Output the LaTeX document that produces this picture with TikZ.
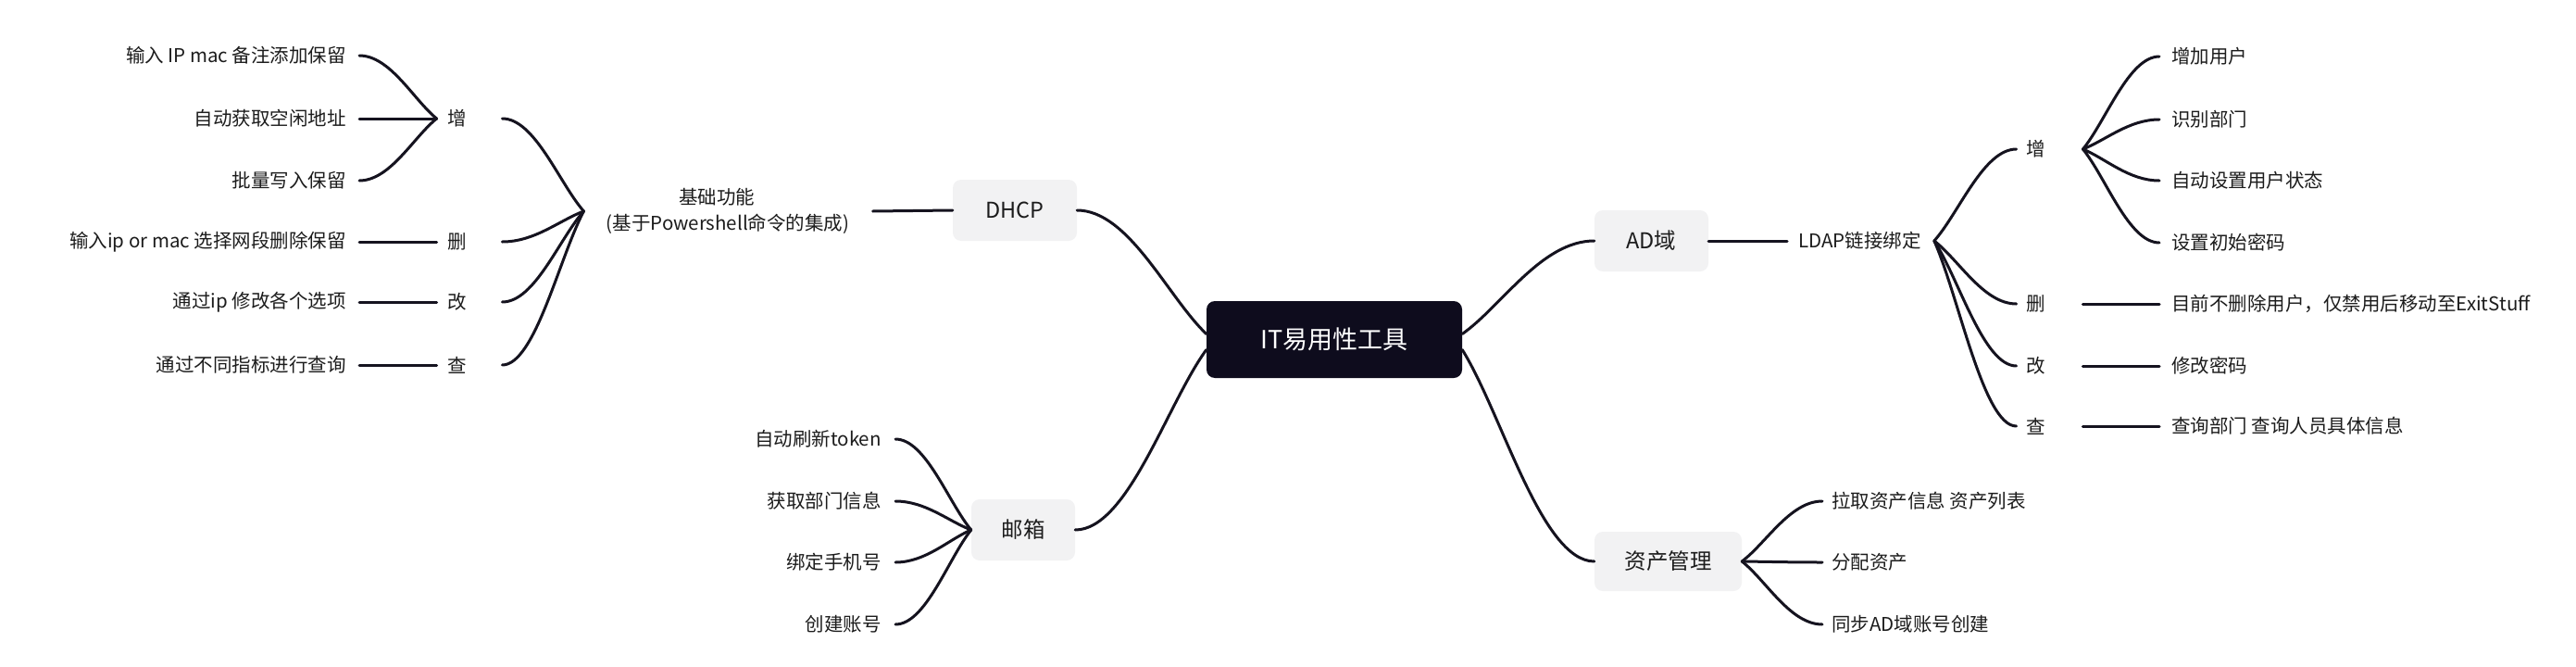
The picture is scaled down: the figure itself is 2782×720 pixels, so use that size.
\documentclass[tikz,border=0pt]{standalone}
\usepackage{fontspec}
\setmainfont{Noto Sans CJK SC}
\usetikzlibrary{calc}
\definecolor{linec}{HTML}{15131F}
\definecolor{boxfill}{HTML}{F2F2F3}
\definecolor{rootfill}{HTML}{0E0C1D}
\definecolor{txt}{HTML}{1C1C1C}
\newcommand\mmlink[2]{\draw[conn] let \p1=(#1), \p2=(#2) in (\p1) .. controls ({\x1+0.3*(\x2-\x1)},{\y1+0.3*(\y2-\y1)}) and ({\x1+0.6*(\x2-\x1)},\y2) .. (\p2);}
\begin{document}
\begin{tikzpicture}[x=1pt,y=-1pt,
  conn/.style={draw=linec,line width=3pt,line cap=round},
  leaf/.style={inner sep=0pt,text=txt,font=\fontsize{20.5}{28}\selectfont},
  mbox/.style={inner sep=0pt,fill=boxfill,rounded corners=9pt,text=txt,font=\fontsize{23.5}{28}\selectfont,minimum height=66pt},
  rootbox/.style={inner sep=0pt,fill=rootfill,rounded corners=9pt,text=white,font=\fontsize{27}{32}\selectfont,minimum width=276pt,minimum height=83pt}]
\useasboundingbox[fill=white] (0,0) rectangle (2782,720);

% central
\node[rootbox] (root) at (1441,366.5) {IT易用性工具};

% main branches
\node[mbox,minimum width=134pt] (dhcp) at (1096,227) {DHCP};
\node[mbox,minimum width=112pt] (mail) at (1105,572) {邮箱};
\node[mbox,minimum width=123pt] (ad) at (1783.5,260) {AD域};
\node[mbox,minimum width=159pt,minimum height=64pt] (asset) at (1801.5,606) {资产管理};

\mmlink{[yshift=6pt]root.west}{dhcp.east}
\mmlink{[yshift=-11pt]root.west}{mail.east}
\mmlink{[yshift=6pt]root.east}{ad.west}
\mmlink{[yshift=-11pt]root.east}{asset.west}

% DHCP side
\node[leaf,align=center] (base) at (786,228) {基础功能\kern24pt\\(基于Powershell命令的集成)};
\draw[conn] ([xshift=25pt]base.east) -- (dhcp.west);

\node[leaf] (lz) at (494,128) {增};
\node[leaf] (ls) at (494,261) {删};
\node[leaf] (lg) at (494,326) {改};
\node[leaf] (lc) at (494,394) {查};

\mmlink{[xshift=-24pt]base.west}{[xshift=38pt]lz.east}
\mmlink{[xshift=-24pt]base.west}{[xshift=38pt]ls.east}
\mmlink{[xshift=-24pt]base.west}{[xshift=38pt]lg.east}
\mmlink{[xshift=-24pt]base.west}{[xshift=38pt]lc.east}

\node[leaf,anchor=east] (l1) at (374,60) {输入 IP mac 备注添加保留};
\node[leaf,anchor=east] (l2) at (374,128) {自动获取空闲地址};
\node[leaf,anchor=east] (l3) at (374,195) {批量写入保留};
\node[leaf,anchor=east] (l4) at (374,261) {输入ip or mac 选择网段删除保留};
\node[leaf,anchor=east] (l5) at (374,326) {通过ip 修改各个选项};
\node[leaf,anchor=east] (l6) at (374,394) {通过不同指标进行查询};

\mmlink{[xshift=-12pt]lz.west}{[xshift=14pt]l1.east}
\mmlink{[xshift=-12pt]lz.west}{[xshift=14pt]l2.east}
\mmlink{[xshift=-12pt]lz.west}{[xshift=14pt]l3.east}
\draw[conn] ([xshift=14pt]l4.east) -- ([xshift=-12pt]ls.west);
\draw[conn] ([xshift=14pt]l5.east) -- ([xshift=-12pt]lg.west);
\draw[conn] ([xshift=14pt]l6.east) -- ([xshift=-12pt]lc.west);

% mail side
\node[leaf,anchor=east] (m1) at (952,474) {自动刷新token};
\node[leaf,anchor=east] (m2) at (952,541) {获取部门信息};
\node[leaf,anchor=east] (m3) at (952,607) {绑定手机号};
\node[leaf,anchor=east] (m4) at (952,674) {创建账号};
\mmlink{mail.west}{[xshift=15pt]m1.east}
\mmlink{mail.west}{[xshift=15pt]m2.east}
\mmlink{mail.west}{[xshift=15pt]m3.east}
\mmlink{mail.west}{[xshift=15pt]m4.east}

% AD side
\node[leaf,anchor=west] (ldap) at (1942,260) {LDAP链接绑定};
\draw[conn] (ad.east) -- ([xshift=-12pt]ldap.west);

\node[leaf] (rz) at (2199,161) {增};
\node[leaf] (rs) at (2199,328) {删};
\node[leaf] (rg) at (2199,395) {改};
\node[leaf] (rc) at (2199,460) {查};
\mmlink{[xshift=14pt]ldap.east}{[xshift=-11pt]rz.west}
\mmlink{[xshift=14pt]ldap.east}{[xshift=-11pt]rs.west}
\mmlink{[xshift=14pt]ldap.east}{[xshift=-11pt]rg.west}
\mmlink{[xshift=14pt]ldap.east}{[xshift=-11pt]rc.west}

\node[leaf,anchor=west] (a1) at (2345,61) {增加用户};
\node[leaf,anchor=west] (a2) at (2345,129) {识别部门};
\node[leaf,anchor=west] (a3) at (2345,195) {自动设置用户状态};
\node[leaf,anchor=west] (a4) at (2345,262) {设置初始密码};
\node[leaf,anchor=west] (a5) at (2345,328) {目前不删除用户，仅禁用后移动至ExitStuff};
\node[leaf,anchor=west] (a6) at (2345,395) {修改密码};
\node[leaf,anchor=west] (a7) at (2345,460) {查询部门 查询人员具体信息};

\mmlink{[xshift=40pt]rz.east}{[xshift=-13pt]a1.west}
\mmlink{[xshift=40pt]rz.east}{[xshift=-13pt]a2.west}
\mmlink{[xshift=40pt]rz.east}{[xshift=-13pt]a3.west}
\mmlink{[xshift=40pt]rz.east}{[xshift=-13pt]a4.west}
\draw[conn] ([xshift=40pt]rs.east) -- ([xshift=-13pt]a5.west);
\draw[conn] ([xshift=40pt]rg.east) -- ([xshift=-13pt]a6.west);
\draw[conn] ([xshift=40pt]rc.east) -- ([xshift=-13pt]a7.west);

% asset side
\node[leaf,anchor=west] (s1) at (1978,541) {拉取资产信息 资产列表};
\node[leaf,anchor=west] (s2) at (1978,607) {分配资产};
\node[leaf,anchor=west] (s3) at (1978,674) {同步AD域账号创建};
\mmlink{asset.east}{[xshift=-10pt]s1.west}
\mmlink{asset.east}{[xshift=-10pt]s2.west}
\mmlink{asset.east}{[xshift=-10pt]s3.west}
\end{tikzpicture}
\end{document}
